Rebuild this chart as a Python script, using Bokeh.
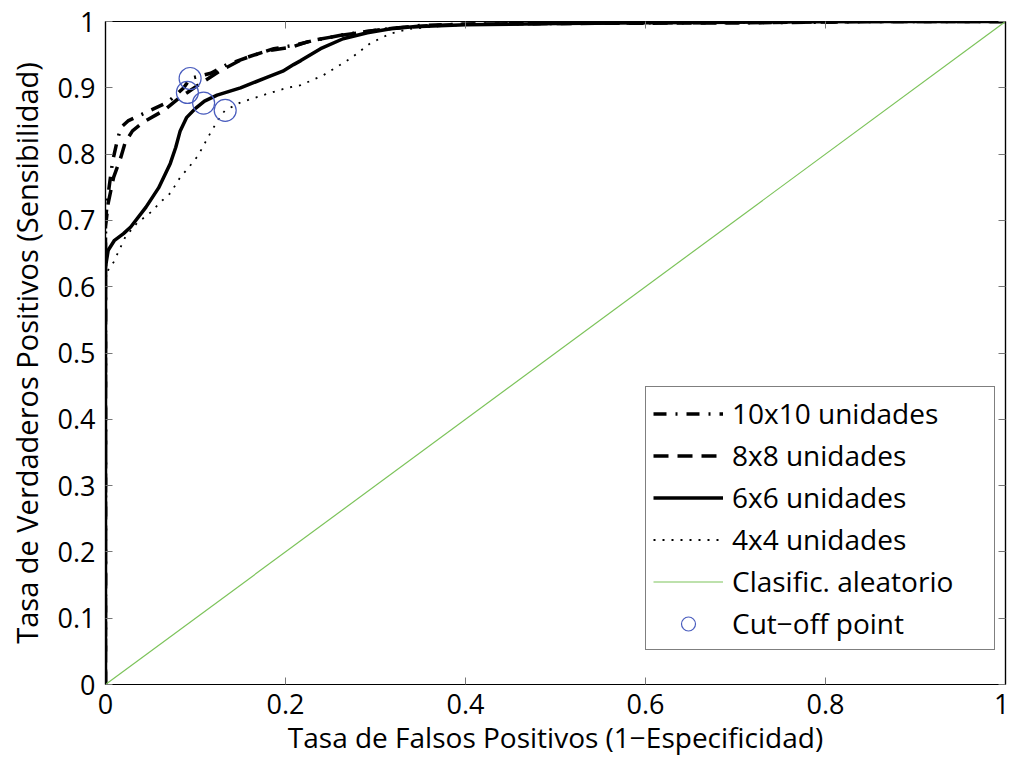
from bokeh.plotting import figure
from bokeh.models import Range1d, FixedTicker, LinearAxis, Legend, LegendItem
from bokeh.embed import file_html
from bokeh.resources import INLINE

# ---- data ----
x_10 = [0, 0, 0.003, 0.008, 0.013, 0.017, 0.025, 0.042, 0.069, 0.087, 0.094, 0.117, 0.135, 0.158,
        0.187, 0.209, 0.23, 0.26, 0.29, 0.32, 0.35, 0.4, 0.5, 0.6, 0.7, 0.8, 0.85, 1.0]
y_10 = [0, 0.70, 0.74, 0.79, 0.82, 0.84, 0.85, 0.861, 0.878, 0.90, 0.914, 0.922, 0.935, 0.946,
        0.959, 0.964, 0.971, 0.979, 0.985, 0.99, 0.994, 0.996, 0.997, 0.998, 0.998, 0.999, 1.0, 1.0]

x_8 = [0, 0, 0.003, 0.009, 0.017, 0.022, 0.03, 0.042, 0.065, 0.083, 0.091, 0.106, 0.128, 0.153,
       0.18, 0.206, 0.228, 0.261, 0.291, 0.32, 0.35, 0.4, 0.5, 0.7, 0.85, 1.0]
y_8 = [0, 0.69, 0.726, 0.765, 0.795, 0.818, 0.835, 0.848, 0.866, 0.886, 0.893, 0.907, 0.926, 0.944,
       0.956, 0.961, 0.971, 0.979, 0.985, 0.99, 0.993, 0.996, 0.997, 0.998, 1.0, 1.0]

x_6 = [0, 0, 0.003, 0.01, 0.02, 0.028, 0.045, 0.059, 0.072, 0.078, 0.083, 0.09, 0.1, 0.11, 0.124, 0.15,
       0.18, 0.197, 0.209, 0.217, 0.239, 0.264, 0.291, 0.317, 0.342, 0.4, 0.5, 0.6, 0.7, 0.85, 1.0]
y_6 = [0, 0.63, 0.655, 0.67, 0.68, 0.69, 0.72, 0.749, 0.786, 0.81, 0.835, 0.855, 0.869, 0.88, 0.889, 0.90,
       0.916, 0.925, 0.935, 0.941, 0.959, 0.974, 0.983, 0.989, 0.992, 0.995, 0.997, 0.998, 0.999, 1.0, 1.0]

x_4 = [0, 0, 0.003, 0.009, 0.022, 0.035, 0.05, 0.063, 0.072, 0.083, 0.092, 0.103, 0.111, 0.117, 0.128,
       0.133, 0.15, 0.18, 0.202, 0.217, 0.242, 0.272, 0.294, 0.317, 0.339, 0.37, 0.4, 0.5, 0.7, 0.85, 1.0]
y_4 = [0, 0.61, 0.625, 0.637, 0.675, 0.696, 0.712, 0.73, 0.741, 0.765, 0.779, 0.798, 0.818, 0.833, 0.858,
       0.866, 0.878, 0.891, 0.90, 0.904, 0.919, 0.944, 0.967, 0.982, 0.989, 0.993, 0.995, 0.997, 0.998, 1.0, 1.0]

x_rand = [0, 1]
y_rand = [0, 1]

cut_x = [0.094, 0.091, 0.109, 0.133]
cut_y = [0.914, 0.893, 0.877, 0.866]

x_ticks = [0, 0.2, 0.4, 0.6, 0.8, 1]
x_tick_labels = ["0", "0.2", "0.4", "0.6", "0.8", "1"]
y_ticks = [0, 0.1, 0.2, 0.3, 0.4, 0.5, 0.6, 0.7, 0.8, 0.9, 1]
y_tick_labels = ["0", "0.1", "0.2", "0.3", "0.4", "0.5", "0.6", "0.7", "0.8", "0.9", "1"]

series_labels = ["10x10 unidades", "8x8 unidades", "6x6 unidades", "4x4 unidades",
                 "Clasific. aleatorio", "Cut\u2212off point"]

FONT = "Open Sans"
FS = "27px"
LFS = "28px"

p = figure(width=1009, height=758, x_range=Range1d(0, 1), y_range=Range1d(0, 1),
           output_backend="svg", toolbar_location=None,
           min_border_left=105, min_border_right=4, min_border_top=21, min_border_bottom=73)
p.xaxis.visible = False
p.yaxis.visible = False
p.grid.visible = False
p.outline_line_color = "black"
p.outline_line_width = 1.2
p.background_fill_color = "white"
p.border_fill_color = "white"

def style_axis(ax, show_labels=True):
    ax.major_tick_in = 7
    ax.major_tick_out = 0
    ax.minor_tick_line_color = None
    ax.major_tick_line_color = "#777777"
    ax.axis_line_color = "black"
    ax.axis_line_width = 1.2
    ax.major_label_text_font = FONT
    ax.major_label_text_font_size = FS if show_labels else "0px"
    ax.major_label_text_color = "black"
    ax.axis_label_text_font = FONT
    ax.axis_label_text_font_size = LFS
    ax.axis_label_text_font_style = "normal"
    ax.axis_label_text_color = "black"
    if not show_labels:
        ax.major_label_standoff = 0

xb = LinearAxis(ticker=FixedTicker(ticks=x_ticks),
                major_label_overrides={t: l for t, l in zip(x_ticks, x_tick_labels)},
                axis_label="Tasa de Falsos Positivos (1\u2212Especificidad)")
style_axis(xb)
xb.major_label_standoff = 9
xb.axis_label_standoff = 1
p.add_layout(xb, "below")

yl = LinearAxis(ticker=FixedTicker(ticks=y_ticks),
                major_label_overrides={t: l for t, l in zip(y_ticks, y_tick_labels)},
                axis_label="Tasa de Verdaderos Positivos (Sensibilidad)")
style_axis(yl)
yl.axis_label_text_font_size = "29px"
yl.major_label_standoff = 10
yl.axis_label_standoff = 9
p.add_layout(yl, "left")

xt = LinearAxis(ticker=FixedTicker(ticks=x_ticks))
style_axis(xt, False)
p.add_layout(xt, "above")

yr = LinearAxis(ticker=FixedTicker(ticks=y_ticks))
style_axis(yr, False)
p.add_layout(yr, "right")

r10 = p.line(x_10, y_10, line_color="black", line_width=3.5, line_dash="13 9 2 9")
r8 = p.line(x_8, y_8, line_color="black", line_width=3.5, line_dash="15 9")
r6 = p.line(x_6, y_6, line_color="black", line_width=3.5)
r4 = p.line(x_4, y_4, line_color="black", line_width=1.8, line_dash="2 7")
rr = p.line(x_rand, y_rand, line_color="#7cc35a", line_width=1.2)
rc = p.scatter(cut_x, cut_y, marker="circle", size=22, fill_color=None,
               line_color="#4a5dbe", line_width=1.2)

legend = Legend(items=[LegendItem(label=l, renderers=[r]) for l, r in
                       zip(series_labels, [r10, r8, r6, r4, rr, rc])],
                location=(540, 34))
legend.label_text_font = FONT
legend.label_text_font_size = LFS
legend.label_text_color = "black"
legend.glyph_width = 70
legend.glyph_height = 35
legend.label_height = 35
legend.label_width = 255
legend.spacing = 4
legend.padding = 7
legend.margin = 0
legend.label_standoff = 9
legend.border_line_color = "black"
legend.border_line_width = 1
legend.background_fill_alpha = 1
p.add_layout(legend, "center")

open("out.html", "w").write(file_html(p, INLINE))
